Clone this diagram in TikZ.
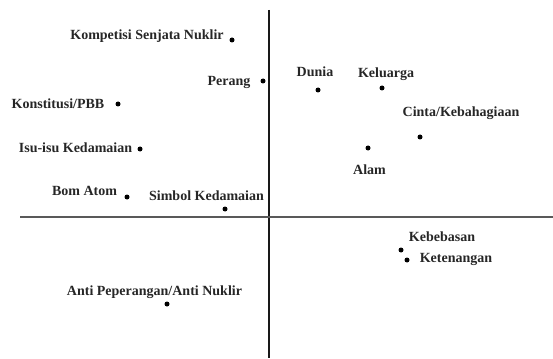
\documentclass[tikz,border=0pt]{standalone}
\usepackage{fontspec}
\setmainfont{Liberation Serif}
\begin{document}
\begin{tikzpicture}[x=1pt,y=-1pt,
  pt/.style={circle,fill=black,inner sep=0pt,minimum size=5pt},
  lbl/.style={inner sep=0pt,font=\fontsize{14}{16}\selectfont\bfseries,text=black!85},
  axis/.style={line width=1.4pt}]
\useasboundingbox (0,0) rectangle (553,358);
% axes
\coordinate (vt) at (269,10);
\coordinate (vb) at (269,358);
\coordinate (hl) at (20,217);
\coordinate (hr) at (553,217);
\draw[axis,black!90] (vt) -- (vb);
\draw[axis,black!65] (hl) -- (hr);
% points
\node[pt] (kom) at (232,40) {};
\node[pt] (per) at (263,81) {};
\node[pt] (kon) at (118,104) {};
\node[pt] (isu) at (140,149) {};
\node[pt] (bom) at (127,197) {};
\node[pt] (sim) at (225,209) {};
\node[pt] (dun) at (318,90) {};
\node[pt] (kel) at (382,88) {};
\node[pt] (cin) at (420,137) {};
\node[pt] (ala) at (368,148) {};
\node[pt] (keb) at (401,250) {};
\node[pt] (ket) at (407,260) {};
\node[pt] (ant) at (167,304) {};
% labels
\node[lbl] (tkom) at (147,36) {Kompetisi Senjata Nuklir};
\node[lbl] (tper) at (229,82) {Perang};
\node[lbl] (tkon) at (58,104) {Konstitusi/PBB};
\node[lbl] (tisu) at (75.5,148) {Isu-isu Kedamaian};
\node[lbl] (tbom) at (84.5,191) {Bom Atom};
\node[lbl] (tsim) at (206.5,196) {Simbol Kedamaian};
\node[lbl] (tdun) at (315,72) {Dunia};
\node[lbl] (tkel) at (386,74) {Keluarga};
\node[lbl] (tcin) at (461,113) {Cinta/Kebahagiaan};
\node[lbl] (tala) at (369.5,170) {Alam};
\node[lbl] (tkeb) at (442,237) {Kebebasan};
\node[lbl] (tket) at (456,259) {Ketenangan};
\node[lbl] (tant) at (154.5,292) {Anti Peperangan/Anti Nuklir};
\end{tikzpicture}
\end{document}
